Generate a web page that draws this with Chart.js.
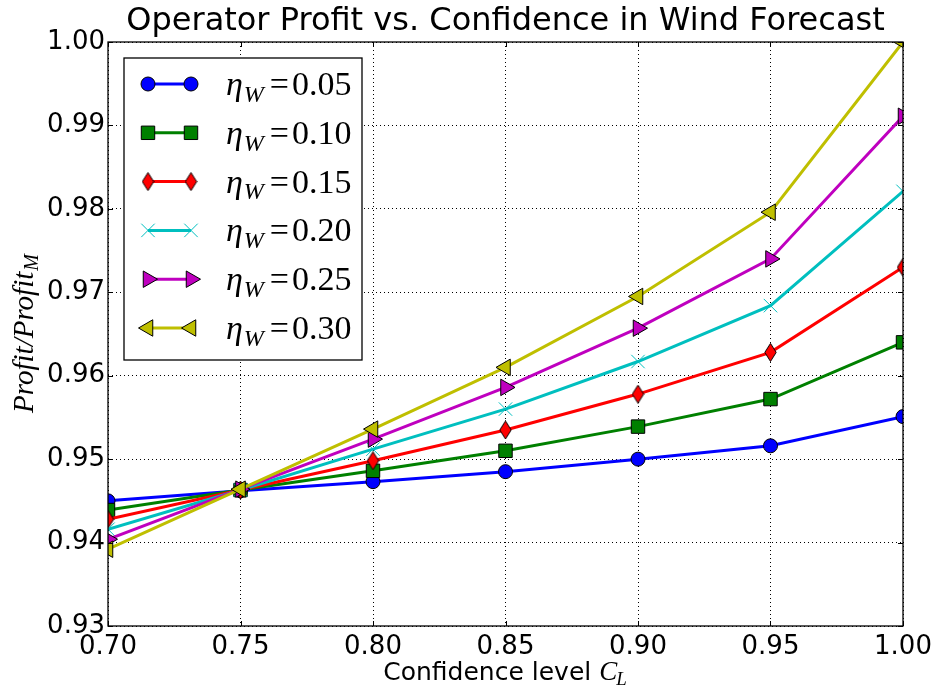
<!DOCTYPE html>
<html>
<head>
<meta charset="utf-8">
<script src="https://cdn.jsdelivr.net/npm/chart.js@4"></script>
<style>
  html, body { margin: 0; padding: 0; background: #fff; }
  #wrap { width: 938px; height: 692px; }
</style>
</head>
<body>
<div id="wrap"><canvas id="profitChart" width="938" height="692"></canvas></div>
<script>
// confidence levels on the x axis
const confidence = [0.70, 0.75, 0.80, 0.85, 0.90, 0.95, 1.00];

// Profit / Profit_M for each wind forecast error eta_W
const eta005 = [0.9450, 0.9462, 0.9473, 0.9485, 0.9500, 0.9516, 0.9551];
const eta010 = [0.9439, 0.9463, 0.9486, 0.9510, 0.9539, 0.9572, 0.9640];
const eta015 = [0.9428, 0.9463, 0.9498, 0.9535, 0.9578, 0.9628, 0.9730];
const eta020 = [0.9416, 0.9463, 0.9512, 0.9560, 0.9617, 0.9684, 0.9821];
const eta025 = [0.9404, 0.9464, 0.9524, 0.9586, 0.9657, 0.9740, 0.9911];
const eta030 = [0.9392, 0.9464, 0.9536, 0.9610, 0.9695, 0.9796, 1.0000];

const etaLabels = ["0.05", "0.10", "0.15", "0.20", "0.25", "0.30"];
const xTicks = [0.70, 0.75, 0.80, 0.85, 0.90, 0.95, 1.00];
const yTicks = [0.93, 0.94, 0.95, 0.96, 0.97, 0.98, 0.99, 1.00];

const titleText = "Operator Profit vs. Confidence in Wind Forecast";

// thin diamond marker (matplotlib 'd')
function thinDiamond() {
    const c = document.createElement("canvas");
    c.width = 13; c.height = 19;
    const g = c.getContext("2d");
    g.beginPath();
    g.moveTo(6.5, 0.5);
    g.lineTo(12.2, 9.5);
    g.lineTo(6.5, 18.5);
    g.lineTo(0.8, 9.5);
    g.closePath();
    g.fillStyle = "#ff0000";
    g.fill();
    g.lineWidth = 1;
    g.strokeStyle = "#000";
    g.stroke();
    return c;
}

const seriesValues = [eta005, eta010, eta015, eta020, eta025, eta030];
const styles = [
    { color: "#0000ff", point: "circle", radius: 7, rot: 0, edge: "#000" },
    { color: "#008000", point: "rect", radius: 9.5, rot: 0, edge: "#000" },
    { color: "#ff0000", point: thinDiamond(), radius: 9, rot: 0, edge: "#000" },
    { color: "#00bfbf", point: "crossRot", radius: 9.5, rot: 0, edge: "#00bfbf" },
    { color: "#bf00bf", point: "triangle", radius: 9.5, rot: 90, edge: "#000" },
    { color: "#bfbf00", point: "triangle", radius: 9.5, rot: -90, edge: "#000" }
];

const datasets = seriesValues.map((vals, i) => ({
    label: "η_W=" + etaLabels[i],
    data: vals.map((v, j) => ({ x: confidence[j], y: v })),
    borderColor: styles[i].color,
    backgroundColor: styles[i].color,
    borderWidth: 3,
    pointStyle: styles[i].point,
    pointRadius: styles[i].radius,
    pointRotation: styles[i].rot,
    pointBackgroundColor: styles[i].color,
    pointBorderColor: styles[i].edge,
    pointBorderWidth: 1,
    tension: 0,
    order: seriesValues.length - i
}));

// frame + inward ticks on all four sides
const framePlugin = {
    id: "frame",
    afterDatasetsDraw(chart) {
        const { ctx, chartArea: a, scales } = chart;
        ctx.save();
        ctx.strokeStyle = "#000";
        ctx.lineWidth = 1;
        xTicks.forEach(t => {
            const x = Math.round(scales.x.getPixelForValue(t)) + 0.5;
            ctx.beginPath();
            ctx.moveTo(x, a.top); ctx.lineTo(x, a.top + 5);
            ctx.moveTo(x, a.bottom); ctx.lineTo(x, a.bottom - 5);
            ctx.stroke();
        });
        yTicks.forEach(t => {
            const y = Math.round(scales.y.getPixelForValue(t)) + 0.5;
            ctx.beginPath();
            ctx.moveTo(a.left, y); ctx.lineTo(a.left + 5, y);
            ctx.moveTo(a.right, y); ctx.lineTo(a.right - 5, y);
            ctx.stroke();
        });
        ctx.lineWidth = 1.3;
        ctx.strokeRect(a.left, a.top, a.right - a.left, a.bottom - a.top);
        ctx.restore();
    }
};

// draws "eta_W = value" style math text
function drawMathLabel(ctx, x, y, value, size) {
    ctx.textBaseline = "alphabetic";
    ctx.textAlign = "left";
    ctx.fillStyle = "#000";
    ctx.font = "italic " + size + "px 'Liberation Serif'";
    ctx.fillText("η", x, y);
    x += ctx.measureText("η").width + 1;
    ctx.font = "italic " + Math.round(size * 0.7) + "px 'Liberation Serif'";
    ctx.fillText("W", x, y + size * 0.2);
    x += ctx.measureText("W").width + 6;
    ctx.font = size + "px 'Liberation Serif'";
    ctx.fillText("=", x, y);
    x += ctx.measureText("=").width + 3;
    ctx.fillText(value, x, y);
}

const legendPlugin = {
    id: "insideLegend",
    afterDraw(chart) {
        const { ctx, chartArea: a } = chart;
        const left = a.left + 16, top = a.top + 16;
        const w = 238, h = 302;
        ctx.save();
        ctx.fillStyle = "#fff";
        ctx.fillRect(left, top, w, h);
        ctx.strokeStyle = "#000";
        ctx.lineWidth = 1.3;
        ctx.strokeRect(left, top, w, h);
        chart.data.datasets.forEach((ds, i) => {
            const y = top + 26 + i * 48.8;
            const x1 = left + 24, x2 = left + 67;
            ctx.strokeStyle = ds.borderColor;
            ctx.lineWidth = 3;
            ctx.beginPath();
            ctx.moveTo(x1, y); ctx.lineTo(x2, y);
            ctx.stroke();
            const opts = {
                pointStyle: ds.pointStyle,
                rotation: ds.pointRotation,
                radius: ds.pointRadius,
                borderWidth: 1
            };
            [x1, x2].forEach(px => {
                ctx.fillStyle = ds.pointBackgroundColor;
                ctx.strokeStyle = ds.pointBorderColor;
                ctx.lineWidth = 1;
                Chart.helpers.drawPoint(ctx, opts, px, y);
            });
            drawMathLabel(ctx, left + 102, y + 11, etaLabels[i], 34);
        });
        ctx.restore();
    }
};

// axis titles with subscripts
const axisTitlePlugin = {
    id: "axisTitles",
    afterDraw(chart) {
        const { ctx, chartArea: a } = chart;
        ctx.save();
        ctx.fillStyle = "#000";
        ctx.textBaseline = "alphabetic";
        ctx.textAlign = "left";

        // x label: "Confidence level C_L"
        const main = "Confidence level ";
        ctx.font = "25px 'DejaVu Sans'";
        const w1 = ctx.measureText(main).width;
        ctx.font = "italic 27px 'Liberation Serif'";
        const w2 = ctx.measureText("C").width;
        ctx.font = "italic 19px 'Liberation Serif'";
        const w3 = ctx.measureText("L").width;
        let x = (a.left + a.right) / 2 - (w1 + w2 + w3) / 2;
        const yb = 680;
        ctx.font = "25px 'DejaVu Sans'";
        ctx.fillText(main, x, yb);
        x += w1;
        ctx.font = "italic 27px 'Liberation Serif'";
        ctx.fillText("C", x, yb);
        x += w2 - 1;
        ctx.font = "italic 19px 'Liberation Serif'";
        ctx.fillText("L", x, yb + 5);

        // y label: "Profit/Profit_M"
        ctx.translate(33, (a.top + a.bottom) / 2);
        ctx.rotate(-Math.PI / 2);
        ctx.font = "italic 29px 'Liberation Serif'";
        const t1 = "Profit/Profit";
        const m1 = ctx.measureText(t1).width;
        ctx.font = "italic 20px 'Liberation Serif'";
        const m2 = ctx.measureText("M").width;
        let sx = -(m1 + m2) / 2;
        ctx.font = "italic 29px 'Liberation Serif'";
        ctx.fillText(t1, sx, 0);
        ctx.font = "italic 20px 'Liberation Serif'";
        ctx.fillText("M", sx + m1 + 1, 5);
        ctx.restore();
    }
};

new Chart(document.getElementById("profitChart"), {
    type: "line",
    data: { datasets: datasets },
    plugins: [framePlugin, legendPlugin, axisTitlePlugin],
    options: {
        responsive: false,
        animation: false,
        layout: { padding: { left: 0, right: 35, top: 0, bottom: 0 } },
        plugins: {
            legend: { display: false },
            tooltip: { enabled: false },
            title: {
                display: true,
                text: titleText,
                fullSize: false,
                color: "#000",
                font: { family: "DejaVu Sans", size: 32, weight: "normal", lineHeight: 1.2 },
                padding: { top: 2, bottom: 1.6 }
            }
        },
        scales: {
            x: {
                type: "linear",
                min: 0.70,
                max: 1.00,
                afterBuildTicks: s => { s.ticks = xTicks.map(v => ({ value: v })); },
                afterFit: s => { s.height = 66; },
                grid: { color: "#000", lineWidth: 1, drawTicks: false },
                border: { display: false, dash: [1, 3] },
                ticks: {
                    color: "#000",
                    padding: 6,
                    maxRotation: 0,
                    autoSkip: false,
                    font: { family: "DejaVu Sans", size: 26 },
                    callback: v => Number(v).toFixed(2)
                }
            },
            y: {
                type: "linear",
                min: 0.93,
                max: 1.00,
                afterBuildTicks: s => { s.ticks = yTicks.map(v => ({ value: v })); },
                afterFit: s => { s.width = 108; },
                grid: { color: "#000", lineWidth: 1, drawTicks: false },
                border: { display: false, dash: [1, 3] },
                ticks: {
                    color: "#000",
                    padding: 3,
                    autoSkip: false,
                    font: { family: "DejaVu Sans", size: 26 },
                    callback: v => Number(v).toFixed(2)
                }
            }
        }
    }
});
</script>
</body>
</html>
